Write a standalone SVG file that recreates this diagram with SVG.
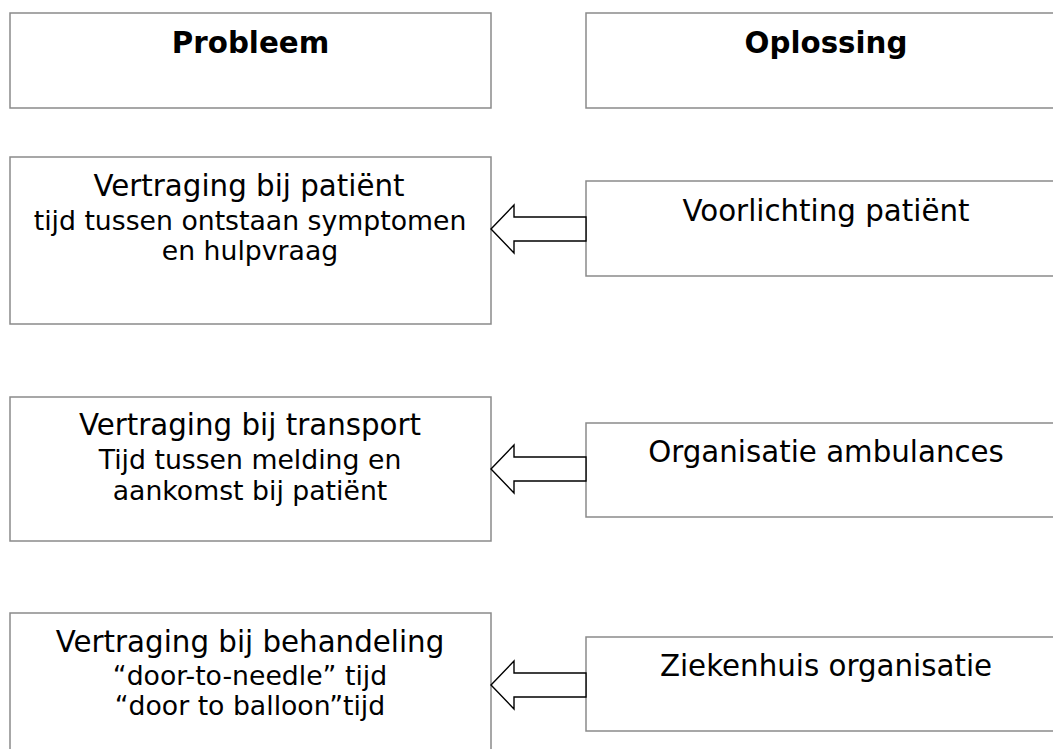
<svg xmlns="http://www.w3.org/2000/svg" width="1053" height="749" viewBox="0 0 1053 749">
<style>
.box{fill:#fff;stroke:#8a8a8a;stroke-width:1.5}
.arr{fill:#fff;stroke:#000;stroke-width:1.4;stroke-linejoin:miter}
text{font-family:"DejaVu Sans",Verdana,sans-serif;fill:#000;text-anchor:middle}
.h{font-size:29.3px;font-weight:bold}
.t1{font-size:29.3px}
.t2{font-size:26.7px}
</style>
<rect width="1053" height="749" fill="#fff"/>
<g id="hdr-probleem"><rect class="box" x="10" y="13" width="481" height="95"/><text class="h" x="250.5" y="53">Probleem</text></g>
<g id="hdr-oplossing"><rect class="box" x="586" y="13" width="480" height="95"/><text class="h" x="826" y="53">Oplossing</text></g>
<g id="p1"><rect class="box" x="10" y="157" width="481" height="167"/><text class="t1" x="249" y="196">Vertraging bij patiënt</text><text class="t2" x="250" y="230">tijd tussen ontstaan symptomen</text><text class="t2" x="250" y="260">en hulpvraag</text></g>
<g id="s1"><rect class="box" x="586" y="181" width="480" height="95"/><text class="t1" x="826" y="221">Voorlichting patiënt</text></g>
<g id="p2"><rect class="box" x="10" y="397" width="481" height="144"/><text class="t1" x="250" y="435">Vertraging bij transport</text><text class="t2" x="250" y="469">Tijd tussen melding en</text><text class="t2" x="250" y="500">aankomst bij patiënt</text></g>
<g id="s2"><rect class="box" x="586" y="423" width="480" height="94"/><text class="t1" x="826" y="462">Organisatie ambulances</text></g>
<g id="p3"><rect class="box" x="10" y="613" width="481" height="160"/><text class="t1" x="250" y="652">Vertraging bij behandeling</text><text class="t2" x="250" y="685">“door-to-needle” tijd</text><text class="t2" x="250" y="715">“door to balloon”tijd</text></g>
<g id="s3"><rect class="box" x="586" y="637" width="480" height="94"/><text class="t1" x="826" y="676">Ziekenhuis organisatie</text></g>
<g id="connectors">
<path class="arr" d="M491,229 L514,205 L514,217 L586,217 L586,241 L514,241 L514,253 Z"/>
<path class="arr" d="M491,469 L514,445 L514,457 L586,457 L586,481 L514,481 L514,493 Z"/>
<path class="arr" d="M491,685 L514,661 L514,673 L586,673 L586,697 L514,697 L514,709 Z"/>
</g>
</svg>
